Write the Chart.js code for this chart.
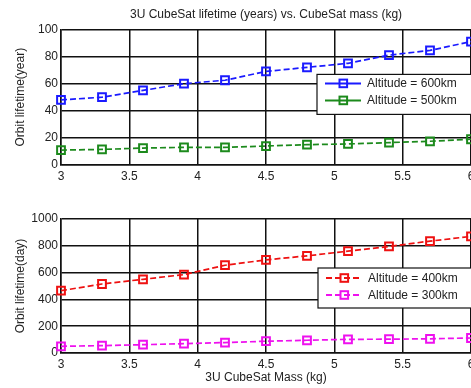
<!DOCTYPE html>
<html>
<head>
<meta charset="utf-8">
<script src="https://cdn.jsdelivr.net/npm/chart.js@4.4.1/dist/chart.umd.min.js"></script>
<style>
  html, body { margin: 0; padding: 0; background: #fff; width: 471px; height: 388px; overflow: hidden; }
  #wrap { position: relative; width: 471px; height: 388px; overflow: hidden; }
  canvas { position: absolute; left: 0; }
  #yearChart { top: 0; }
  #dayChart { top: 195px; }
</style>
</head>
<body>
<div id="wrap">
  <canvas id="yearChart" width="490" height="195"></canvas>
  <canvas id="dayChart" width="490" height="193"></canvas>
</div>
<script>
const massKg = [3, 3.3, 3.6, 3.9, 4.2, 4.5, 4.8, 5.1, 5.4, 5.7, 6];
const xTicks = [3, 3.5, 4, 4.5, 5, 5.5, 6];

const life600kmYears = [48, 50, 55, 60, 62.5, 69, 72, 75, 81, 84.5, 91];
const life500kmYears = [11, 11.5, 12.5, 13, 13, 14, 15, 15.5, 16.5, 17.5, 19];

const life400kmDays = [465, 515, 550, 585, 655, 695, 725, 760, 795, 835, 870];
const life300kmDays = [50, 55, 62, 70, 78, 88, 95, 102, 103, 106, 112];

const yearTicks = [0, 20, 40, 60, 80, 100];
const dayTicks = [0, 200, 400, 600, 800, 1000];

const titleText = '3U CubeSat lifetime (years) vs. CubeSat mass (kg)';
const xTitleText = '3U CubeSat Mass (kg)';

(function () {
  const FONT = 'Liberation Sans, Arial, Helvetica, sans-serif';
  const TEXT = '#222';
  const GRID = '#111';

  const colors = {
    blue: '#1a1aff',
    green: '#1c8a1c',
    red: '#ee1111',
    magenta: '#ee11ee',
  };

  function toPoints(values) {
    return values.map((v, i) => ({ x: massKg[i], y: v }));
  }

  function makeDataset(label, values, color) {
    return {
      label,
      data: toPoints(values),
      borderColor: color,
      backgroundColor: 'transparent',
      borderWidth: 1.7,
      borderDash: [6, 3],
      pointStyle: 'rect',
      pointRadius: 5.5,
      pointBorderWidth: 2,
      pointBorderColor: color,
      pointBackgroundColor: 'transparent',
      tension: 0,
      clip: false,
    };
  }

  // legend box drawn inside plot area, like the MATLAB one
  const boxLegend = {
    id: 'boxLegend',
    afterDatasetsDraw(chart, args, opts) {
      const { ctx, chartArea } = chart;
      const left = chartArea.left + opts.dx;
      const top = chartArea.top + opts.dy;
      ctx.save();
      ctx.fillStyle = '#fff';
      ctx.strokeStyle = '#111';
      ctx.lineWidth = 1.2;
      ctx.fillRect(left, top, 200, 40);
      ctx.strokeRect(left, top, 200, 40);
      chart.data.datasets.forEach((ds, i) => {
        const y = top + opts.rows[i];
        ctx.strokeStyle = ds.borderColor;
        ctx.lineWidth = 2;
        ctx.setLineDash(opts.dashed ? [6, 3] : []);
        ctx.beginPath();
        ctx.moveTo(left + 8, y);
        ctx.lineTo(left + 44, y);
        ctx.stroke();
        ctx.setLineDash([]);
        ctx.strokeRect(left + 22.5, y - 3.8, 7.6, 7.6);
        ctx.fillStyle = TEXT;
        ctx.font = '12px ' + FONT;
        ctx.textAlign = 'left';
        ctx.textBaseline = 'middle';
        ctx.fillText(ds.label, left + 50, y + 0.5);
      });
      ctx.restore();
    },
  };

  function buildOptions(cfg) {
    return {
      responsive: false,
      animation: false,
      devicePixelRatio: 1,
      layout: { padding: { left: 0, right: 19, top: cfg.padTop, bottom: 0 } },
      plugins: {
        legend: { display: false },
        tooltip: { enabled: false },
        title: cfg.title
          ? { display: true, fullSize: false, text: cfg.title, color: TEXT, font: { family: FONT, size: 12, weight: 'normal' }, padding: { top: 7, bottom: 8 } }
          : { display: false },
        boxLegend: cfg.legend,
      },
      scales: {
        x: {
          type: 'linear',
          min: 3,
          max: 6,
          afterBuildTicks: (scale) => { scale.ticks = xTicks.map((v) => ({ value: v })); },
          afterFit: (scale) => { scale.height = cfg.xHeight; },
          ticks: { color: TEXT, font: { family: FONT, size: 12 }, padding: 4, maxRotation: 0, callback: (v) => String(v) },
          grid: { color: GRID, lineWidth: 1.5, drawTicks: false },
          border: { color: GRID, width: 1.5 },
          title: cfg.xTitle
            ? { display: true, text: cfg.xTitle, color: TEXT, font: { family: FONT, size: 12 }, padding: { top: 0, bottom: 3 } }
            : { display: false },
        },
        y: {
          min: 0,
          max: cfg.yMax,
          afterBuildTicks: (scale) => { scale.ticks = cfg.yTicks.map((v) => ({ value: v })); },
          afterFit: (scale) => { scale.width = 61; },
          ticks: { color: TEXT, font: { family: FONT, size: 12 }, padding: 3, callback: (v) => String(v) },
          grid: { color: GRID, lineWidth: 1.5, drawTicks: false },
          border: { color: GRID, width: 1.5 },
          title: { display: true, text: cfg.yTitle, color: TEXT, font: { family: FONT, size: 12 }, padding: { top: 13, bottom: 0 } },
        },
      },
    };
  }

  new Chart(document.getElementById('yearChart'), {
    type: 'line',
    data: {
      datasets: [
        makeDataset('Altitude = 600km', life600kmYears, colors.blue),
        makeDataset('Altitude = 500km', life500kmYears, colors.green),
      ],
    },
    options: buildOptions({
      title: titleText,
      padTop: 0,
      xHeight: 30,
      yMax: 100,
      yTicks: yearTicks,
      yTitle: 'Orbit lifetime(year)',
      legend: { dx: 256, dy: 45, rows: [9, 26], dashed: false },
    }),
    plugins: [boxLegend],
  });

  new Chart(document.getElementById('dayChart'), {
    type: 'line',
    data: {
      datasets: [
        makeDataset('Altitude = 400km', life400kmDays, colors.red),
        makeDataset('Altitude = 300km', life300kmDays, colors.magenta),
      ],
    },
    options: buildOptions({
      title: null,
      padTop: 24,
      xHeight: 35,
      xTitle: xTitleText,
      yMax: 1000,
      yTicks: dayTicks,
      yTitle: 'Orbit lifetime(day)',
      legend: { dx: 257, dy: 49, rows: [10, 27], dashed: true },
    }),
    plugins: [boxLegend],
  });
})();
</script>
</body>
</html>
